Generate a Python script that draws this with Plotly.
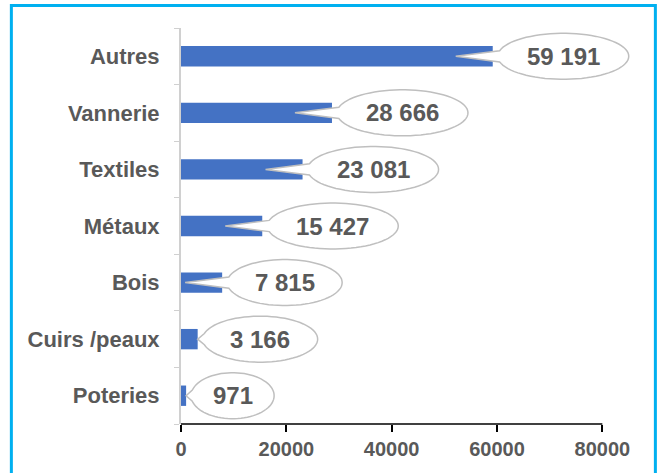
import math
import plotly.graph_objects as go

# data (bottom to top, as drawn)
categories = ['Poteries', 'Cuirs /peaux', 'Bois', 'Métaux', 'Textiles', 'Vannerie', 'Autres']
values = [971, 3166, 7815, 15427, 23081, 28666, 59191]
value_labels = ['971', '3 166', '7 815', '15 427', '23 081', '28 666', '59 191']
x_ticks = [0, 20000, 40000, 60000, 80000]

FONT = 'Liberation Sans, Arial, sans-serif'
GREY = '#595959'
BAR = '#4472c4'

x_max = 80000      # end of the drawn axis
x_rng = 90000      # room on the right so the callouts are not clipped

# plot area in pixels
W, H = 662, 473
L, T, B = 181, 28, 49
axis_px = 421                       # pixels from 0 to 80000
plot_w = axis_px * x_rng / x_max
R = W - L - plot_w
plot_h = H - T - B


def callout_path(w, tip):
    # ellipse (pixel offsets from bar end) with a wedge pointing to tip
    a, b = w / 2.0, 23.0
    cx = 5 + a
    base = 14
    pts = []
    n = 72
    for i in range(n + 1):
        ang = math.radians(180 + base + (360 - 2 * base) * i / n)
        pts.append((cx + a * math.cos(ang), b * math.sin(ang)))
    d = 'M %.1f,%.1f ' % pts[0]
    for p in pts[1:]:
        d += 'L %.1f,%.1f ' % p
    d += 'L %.1f,0 Z' % tip
    return d, cx


fig = go.Figure(go.Bar(
    x=values, y=categories, orientation='h',
    marker=dict(color=BAR, line=dict(width=0)),
    width=0.36, hoverinfo='x+y'
))

shapes = []
annotations = []
for cat, v, lab in zip(categories, values, value_labels):
    bar_px = v / x_max * axis_px
    w = 16 * len(lab) + 35
    tip = -37 if bar_px > 30 else 0
    path, cx = callout_path(w, tip)
    shapes.append(dict(
        type='path', path=path,
        xref='x', xsizemode='pixel', xanchor=v,
        yref='y', ysizemode='pixel', yanchor=cat,
        fillcolor='white', line=dict(color='#bfbfbf', width=1.5),
        layer='above'
    ))
    annotations.append(dict(
        x=v, y=cat, xref='x', yref='y', xshift=cx, yshift=0,
        text=lab, showarrow=False,
        font=dict(family=FONT, size=24, color=GREY, weight='bold')
    ))

# x axis line only up to 80000
shapes.append(dict(
    type='line', xref='paper', yref='paper',
    x0=0, x1=x_max / x_rng, y0=0, y1=0,
    line=dict(color='black', width=1.5), layer='above'
))

# blue frame around the picture
px = lambda x: (x - L) / plot_w
py = lambda y: (H - B - y) / plot_h
shapes.append(dict(
    type='rect', xref='paper', yref='paper',
    x0=px(11.5), x1=px(655), y0=py(490), y1=py(5.5),
    line=dict(color='#00b0f0', width=3), fillcolor='rgba(0,0,0,0)',
    layer='above'
))

fig.update_layout(
    width=W, height=H,
    margin=dict(l=L, r=R, t=T, b=B),
    plot_bgcolor='white', paper_bgcolor='white',
    showlegend=False,
    shapes=shapes, annotations=annotations,
    font=dict(family=FONT, color=GREY),
)
fig.update_xaxes(
    range=[0, x_rng], tickvals=x_ticks, tickformat='d',
    showgrid=False, zeroline=False, showline=False,
    ticks='outside', ticklen=7, tickwidth=1.5, tickcolor='black',
    tickfont=dict(family=FONT, size=20, color=GREY, weight='bold'),
)
fig.update_yaxes(
    categoryorder='array', categoryarray=categories,
    showgrid=False, zeroline=False,
    showline=True, linecolor='#d0d0d0', linewidth=2,
    ticks='outside', tickson='boundaries', ticklen=5, tickcolor='#d0d0d0',
    ticklabelstandoff=15,
    tickfont=dict(family=FONT, size=22, color=GREY, weight='bold'),
)

fig.write_html('out.html', config={'displayModeBar': False},
               post_script="document.body.style.margin='0';")
